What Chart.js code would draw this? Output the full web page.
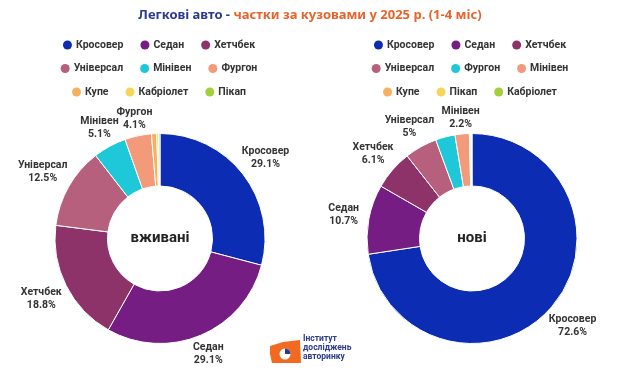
<!DOCTYPE html>
<html>
<head>
<meta charset="utf-8">
<script src="https://cdn.jsdelivr.net/npm/chart.js@4.4.1/dist/chart.umd.min.js"></script>
<style>
body{margin:0;background:#fff;}
#wrap{position:relative;width:620px;height:371px;overflow:hidden;background:#fff;}
canvas{position:absolute;}
</style>
</head>
<body>
<div id="wrap">
<canvas id="deco" width="620" height="371" style="left:0;top:0"></canvas>
<canvas id="used" width="320" height="271" style="left:0px;top:100px"></canvas>
<canvas id="fresh" width="296" height="271" style="left:324px;top:100px"></canvas>
</div>

<script>

let palette = ["#0c2cb4","#761d83","#8e3369","#b7607d","#1ec8d8","#f39a7a","#f5b15e","#f5d55a","#a4cf3c"];

let titleA = "Легкові авто - ";
let titleB = "частки за кузовами у 2025 р. (1-4 міс)";

let usedLabels = ["Кросовер","Седан","Хетчбек","Універсал","Мінівен","Фургон","Купе","Кабріолет","Пікап"];
let usedValues = [29.1,29.1,18.8,12.5,5.1,4.1,0.8,0.3,0.2];
let usedShown = [1,1,1,1,1,1,0,0,0];

let newLabels = ["Кросовер","Седан","Хетчбек","Універсал","Фургон","Мінівен","Купе","Пікап","Кабріолет"];
let newValues = [72.6,10.7,6.1,5,3.0,2.2,0.2,0.1,0.1];
let newShown = [1,1,1,1,0,1,0,0,0];

let logoLines = ["Інститут","досліджень","авторинку"];


/* TITLE + LEGEND + LOGO */

function drawDeco(){

let ctx = document.getElementById("deco").getContext("2d");

ctx.textBaseline = "middle";
ctx.font = "normal normal 700 13px 'Noto Sans'";
let wa = ctx.measureText(titleA).width;
let wb = ctx.measureText(titleB).width;
let x0 = 310 - (wa + wb)/2;
ctx.fillStyle = "#2b3a8f";
ctx.fillText(titleA, x0, 15);
ctx.fillStyle = "#e8632b";
ctx.fillText(titleB, x0 + wa, 15);

legend(ctx, usedLabels, 159);
legend(ctx, newLabels, 470);

// logo
ctx.fillStyle = "#f26a21";
ctx.beginPath();
ctx.moveTo(270,346); ctx.lineTo(283,342); ctx.lineTo(300,340);
ctx.lineTo(301,363); ctx.lineTo(272,363); ctx.lineTo(270,354);
ctx.closePath(); ctx.fill();
ctx.fillStyle = "#fff";
ctx.beginPath(); ctx.arc(285,354,5.5,0,Math.PI*2); ctx.fill();
ctx.fillStyle = "#2b3a8f";
ctx.beginPath(); ctx.moveTo(285,354); ctx.arc(285,354,5.5,-Math.PI/2,0); ctx.closePath(); ctx.fill();

ctx.font = "bold 8.5px Roboto";
ctx.fillStyle = "#2b3a8f";
logoLines.forEach((l,i)=>ctx.fillText(l, 303, 339 + i*9));

}

function legend(ctx, labels, cx){

ctx.font = "bold 10.5px Roboto";
for(let r=0;r<3;r++){
let items = labels.slice(r*3, r*3+3);
let widths = items.map(l=>13 + ctx.measureText(l).width);
let total = widths.reduce((a,b)=>a+b,0) + 17*(items.length-1);
let x = cx - total/2;
let y = 45 + r*23.5;
items.forEach((l,i)=>{
ctx.fillStyle = palette[r*3+i];
ctx.beginPath();
ctx.arc(x + 4.5, y, 4.5, 0, Math.PI*2);
ctx.fill();
ctx.fillStyle = "#333";
ctx.fillText(l, x + 13, y);
x += widths[i] + 17;
});
}

}


/* LABELS */

const sliceLabels = {
id:"sliceLabels",
afterDatasetsDraw(chart, args, opts){
let ctx = chart.ctx;
let meta = chart.getDatasetMeta(0);
let ds = chart.data.datasets[0];
ctx.save();
ctx.font = "bold 10.5px Roboto";
ctx.fillStyle = "#333";
ctx.textAlign = "center";
ctx.textBaseline = "middle";
meta.data.forEach((arc,i)=>{
if(!opts.shown[i]) return;
let p = arc.getProps(["x","y","startAngle","endAngle","outerRadius"], true);
let a = (p.startAngle + p.endAngle)/2;
let name = chart.data.labels[i];
let pct = ds.data[i] + "%";
let w = Math.max(ctx.measureText(name).width, ctx.measureText(pct).width);
let d = p.outerRadius + 15 + Math.abs(Math.cos(a))*w*0.35;
let cx = p.x + Math.cos(a)*d;
let cy = p.y + Math.sin(a)*d;
ctx.fillText(name, cx, cy - 6);
ctx.fillText(pct, cx, cy + 7);
});
ctx.restore();
}
};

const centerText = {
id:"centerText",
afterDatasetsDraw(chart, args, opts){
let arc = chart.getDatasetMeta(0).data[0];
let ctx = chart.ctx;
ctx.save();
ctx.font = "bold 15px Roboto";
ctx.fillStyle = "#222";
ctx.textAlign = "center";
ctx.textBaseline = "middle";
ctx.fillText(opts.text, arc.x, arc.y);
ctx.restore();
}
};


/* CHART */

function makeChart(id, labels, values, shown, text){

new Chart(document.getElementById(id),{
type:"doughnut",
data:{
labels:labels,
datasets:[{
data:values,
backgroundColor:palette,
borderColor:"#fff",
borderWidth:1,
hoverOffset:0,
radius:105,
cutout:"50%"
}]
},
options:{
responsive:false,
animation:false,
events:[],
layout:{padding:{top:10,bottom:4}},
plugins:{
legend:{display:false},
tooltip:{enabled:false},
sliceLabels:{shown:shown},
centerText:{text:text}
}
},
plugins:[sliceLabels, centerText]
});

}


drawDeco();

makeChart("used", usedLabels, usedValues, usedShown, "вживані");
makeChart("fresh", newLabels, newValues, newShown, "нові");

</script>
</body>
</html>
